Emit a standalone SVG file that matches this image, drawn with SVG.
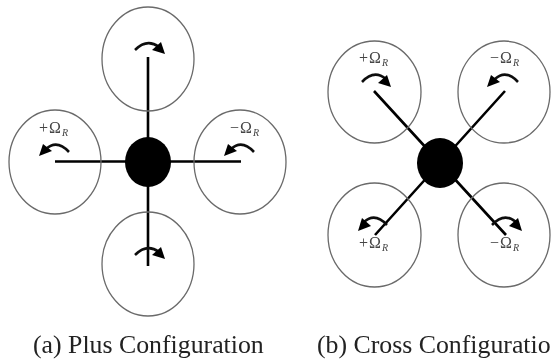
<svg xmlns="http://www.w3.org/2000/svg" width="551" height="362" viewBox="0 0 551 362">
<defs><filter id="soft" x="0" y="0" width="551" height="362" filterUnits="userSpaceOnUse"><feGaussianBlur stdDeviation="0.55"/></filter></defs>
<style>
.rotor{fill:none;stroke:#6a6a6a;stroke-width:1.3}
.arm{fill:none;stroke:#000;stroke-width:2.6}
.spin{fill:none;stroke:#111;stroke-width:2.6}
.head{fill:#000}
.hub{fill:#000}
.omega{font-family:"Liberation Serif",serif;font-size:16px;fill:#444;letter-spacing:1px}
.sub{font-size:10px;font-style:italic}
.cap{font-family:"Liberation Serif",serif;font-size:25.800px;fill:#222}
</style>
<rect width="551" height="362" fill="#fff"/>
<g filter="url(#soft)">
<g id="connectors">
<path class="arm" d="M148 57V266M55 161.500H241M374 91L506 235M505 91L375 235"/>
</g>
<g id="plus-top"><ellipse class="rotor" cx="148" cy="59" rx="46" ry="52"/><path class="spin" d="M135 50Q147 38 159 47"/><path class="head" d="M165 54L152 50L161 42Z"/></g>
<g id="plus-left"><ellipse class="rotor" cx="55" cy="162" rx="46" ry="52"/><path class="spin" d="M69 152Q57 139 46 149"/><text class="omega" x="39" y="133">+Ω<tspan class="sub" dy="3">R</tspan></text><path class="head" d="M39 156L52 151L43 144Z"/></g>
<g id="plus-right"><ellipse class="rotor" cx="240" cy="162" rx="46" ry="52"/><path class="spin" d="M254 152Q242 139 231 149"/><text class="omega" x="230" y="133">−Ω<tspan class="sub" dy="3">R</tspan></text><path class="head" d="M224 156L237 151L228 144Z"/></g>
<g id="plus-bottom"><ellipse class="rotor" cx="148" cy="264" rx="46" ry="52"/><path class="spin" d="M135 255Q147 243 159 252"/><path class="head" d="M165 259L152 255L161 247Z"/></g>
<g id="plus-hub"><ellipse class="hub" cx="148" cy="162" rx="23" ry="25"/></g>
<g id="cross-tl"><ellipse class="rotor" cx="374.500" cy="92" rx="46.500" ry="51"/><path class="spin" d="M362 82Q374 69 386 79"/><text class="omega" x="359" y="63">+Ω<tspan class="sub" dy="3">R</tspan></text><path class="head" d="M391 87L378 83L387 75Z"/></g>
<g id="cross-tr"><ellipse class="rotor" cx="504" cy="92" rx="46" ry="51"/><path class="spin" d="M518 82Q506 69 495 79"/><text class="omega" x="490" y="63">−Ω<tspan class="sub" dy="3">R</tspan></text><path class="head" d="M487 87L500 82L491 75Z"/></g>
<g id="cross-bl"><ellipse class="rotor" cx="374.500" cy="235" rx="46.500" ry="52"/><path class="spin" d="M387 225Q375 212 364 222"/><text class="omega" x="359" y="248">+Ω<tspan class="sub" dy="3">R</tspan></text><path class="head" d="M358 231L371 226L362 218Z"/></g>
<g id="cross-br"><ellipse class="rotor" cx="504" cy="235" rx="46" ry="52"/><path class="spin" d="M492 225Q504 212 516 222"/><text class="omega" x="490" y="248">−Ω<tspan class="sub" dy="3">R</tspan></text><path class="head" d="M522 231L509 226L518 218Z"/></g>
<g id="cross-hub"><ellipse class="hub" cx="440" cy="163" rx="23" ry="25"/></g>
<text class="cap" x="33" y="353">(a) Plus Configuration</text>
<text class="cap" x="317" y="353">(b) Cross Configuratio</text>
</g>
</svg>
